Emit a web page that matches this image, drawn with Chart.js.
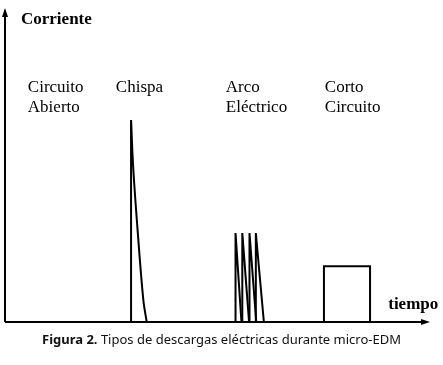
<!DOCTYPE html>
<html>
<head>
<meta charset="utf-8">
<script src="https://cdn.jsdelivr.net/npm/chart.js@4/dist/chart.umd.min.js"></script>
<style>
  body { margin: 0; background: #fff; }
  #wrap { position: relative; width: 443px; height: 365px; }
  #caption {
    position: absolute; left: 0; width: 443px; top: 330px; line-height: 18px;
    text-align: center; font-family: "Noto Sans", sans-serif; font-size: 13px; color: #111;
  }
</style>
</head>
<body>
<div id="wrap">
  <canvas id="grafico" width="443" height="365"></canvas>
  <div id="caption"><b>Figura 2.</b> Tipos de descargas eléctricas durante micro-EDM</div>
</div>
<script>
// dati (tempo 0-100, corrente 0-100)
var categorie = ['Circuito\nAbierto', 'Chispa', 'Arco\nEléctrico', 'Corto\nCircuito'];
var posCategorie = [5.4, 26.2, 52.2, 75.6];

var chispaT = [29.8, 30.3, 31.4, 32.7, 33.5];
var chispaI = [64.7, 49.7, 28.5, 7.1, 0];

var arcoInicio = [54.5, 56.1, 57.8, 59.3];
var arcoPico = 28.5;
var arcoFin = [55.9, 57.7, 59.4, 61.2];

var cortoT = [75.4, 75.4, 86.3, 86.3];
var cortoI = [0, 17.9, 17.9, 0];

var ejeX = 'tiempo';
var ejeY = 'Corriente';

function punti(xs, ys) {
  return xs.map(function(x, i) { return {x: x, y: ys[i]}; });
}

var datasets = [];
// chispa: linea verticale + decadimento
datasets.push({ data: punti([chispaT[0], chispaT[0]], [0, chispaI[0]]), tension: 0 });
datasets.push({ data: punti(chispaT, chispaI), tension: 0.35 });
// arco: quattro picchi
arcoInicio.forEach(function(t, k) {
  datasets.push({ data: punti([t, t, arcoFin[k]], [0, arcoPico, 0]), tension: 0 });
});
// corto circuito
datasets.push({ data: punti(cortoT, cortoI), tension: 0 });

datasets.forEach(function(d) {
  d.showLine = true;
  d.borderColor = '#000';
  d.borderWidth = 2;
  d.pointRadius = 0;
  d.fill = false;
});

var assiPlugin = {
  id: 'assi',
  afterDraw: function(chart) {
    var ctx = chart.ctx;
    var a = chart.chartArea;
    var sx = chart.scales.x, sy = chart.scales.y;
    ctx.save();
    ctx.strokeStyle = '#000';
    ctx.fillStyle = '#000';
    ctx.lineWidth = 2;
    // asse y
    ctx.beginPath();
    ctx.moveTo(a.left, a.bottom);
    ctx.lineTo(a.left, a.top + 4);
    ctx.stroke();
    ctx.beginPath();
    ctx.moveTo(a.left, a.top - 2);
    ctx.lineTo(a.left - 3, a.top + 7);
    ctx.lineTo(a.left + 3, a.top + 7);
    ctx.closePath();
    ctx.fill();
    // asse x
    ctx.beginPath();
    ctx.moveTo(a.left, a.bottom);
    ctx.lineTo(a.right - 4, a.bottom);
    ctx.stroke();
    ctx.beginPath();
    ctx.moveTo(a.right + 2, a.bottom);
    ctx.lineTo(a.right - 7, a.bottom - 3);
    ctx.lineTo(a.right - 7, a.bottom + 3);
    ctx.closePath();
    ctx.fill();

    ctx.textBaseline = 'middle';
    ctx.textAlign = 'left';
    ctx.font = 'bold 17px "Liberation Serif"';
    ctx.fillText(ejeY, a.left + 16, sy.getPixelForValue(97));
    ctx.fillText(ejeX, sx.getPixelForValue(90.6), sy.getPixelForValue(5.5));

    ctx.font = '17px "Liberation Serif"';
    categorie.forEach(function(c, i) {
      var righe = c.split('\n');
      righe.forEach(function(r, j) {
        ctx.fillText(r, sx.getPixelForValue(posCategorie[i]), sy.getPixelForValue(75 - j * 6.1));
      });
    });
    ctx.restore();
  }
};

var grafico = new Chart(document.getElementById('grafico'), {
  type: 'scatter',
  data: { datasets: datasets },
  options: {
    responsive: false,
    animation: false,
    layout: { padding: { left: 5, right: 15, top: 10, bottom: 43 } },
    plugins: { legend: { display: false }, tooltip: { enabled: false } },
    scales: {
      x: { type: 'linear', min: 0, max: 100, display: false },
      y: { type: 'linear', min: 0, max: 100, display: false }
    }
  },
  plugins: [assiPlugin]
});
</script>
</body>
</html>
